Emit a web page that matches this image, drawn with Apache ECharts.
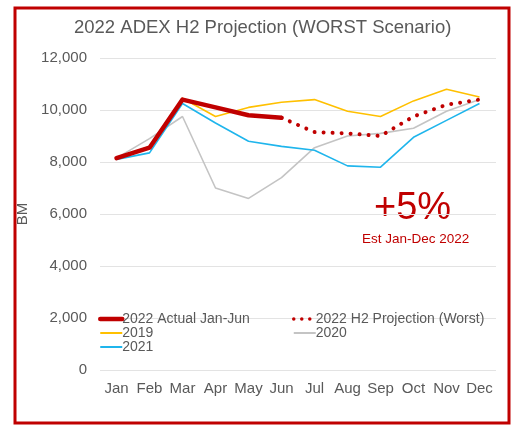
<!DOCTYPE html>
<html>
<head>
<meta charset="utf-8">
<script src="https://cdn.jsdelivr.net/npm/echarts@6/dist/echarts.min.js"></script>
<style>
  html, body { margin: 0; padding: 0; background: #fff; }
  #chart { width: 512px; height: 428px; }
</style>
</head>
<body>
<div id="chart"></div>
<script>
// months on the x axis
const months = ["Jan", "Feb", "Mar", "Apr", "May", "Jun", "Jul", "Aug", "Sep", "Oct", "Nov", "Dec"];

// values (BM)
const actual2022 = [8150, 8550, 10400, 10100, 9800, 9700, null, null, null, null, null, null];
const projection2022 = [null, null, null, null, null, 9700, 9150, 9100, 9000, 9750, 10200, 10400];
const y2019 = [8150, 8600, 10450, 9750, 10100, 10300, 10400, 9950, 9750, 10350, 10800, 10500];
const y2020 = [8150, 8900, 9750, 7000, 6600, 7400, 8550, 9000, 9100, 9300, 9950, 10400];
const y2021 = [8100, 8350, 10250, 9500, 8800, 8600, 8450, 7850, 7800, 8950, 9600, 10250];

const grey = "#595959";
const red = "#c00000";
const font = "Liberation Sans, Arial, sans-serif";

const chart = echarts.init(document.getElementById("chart"));

function line(name, data, color, width, extra) {
    return Object.assign({
        type: "line",
        name: name,
        data: data,
        symbol: "none",
        connectNulls: false,
        lineStyle: { color: color, width: width },
        itemStyle: { color: color },
    }, extra || {});
}

// legend column, no symbol dot on the line icons
function legendCol(left, items) {
    return {
        orient: "vertical",
        left: left,
        top: 312,
        padding: 0,
        itemWidth: 22,
        itemHeight: 10,
        itemGap: 0,
        textStyle: { color: grey, fontSize: 14, lineHeight: 14, padding: [0, 0, 0, -5] },
        data: items.map((it) => Object.assign({ itemStyle: { opacity: 0 } }, it)),
    };
}

chart.setOption({
    animation: false,
    textStyle: { fontFamily: font },
    title: {
        text: "2022 ADEX H2 Projection (WORST Scenario)",
        left: 69,
        top: 13,
        textStyle: { color: grey, fontSize: 18.5, fontWeight: "normal" },
    },
    grid: { left: 100, right: 16, top: 58, bottom: 58 },
    legend: [
        legendCol(98, [
            { name: "2022 Actual Jan-Jun", lineStyle: { width: 4.5 } },
            { name: "2019" },
            { name: "2021" },
        ]),
        legendCol(292, [
            { name: "2022 H2 Projection (Worst)", lineStyle: { width: 3.5, type: [0.01, 8], cap: "round" } },
            { name: "2020" },
        ]),
    ],
    xAxis: {
        type: "category",
        data: months,
        boundaryGap: true,
        axisLine: { show: false },
        axisTick: { show: false },
        axisLabel: { color: grey, fontSize: 15, margin: 11, interval: 0 },
    },
    yAxis: {
        type: "value",
        min: 0,
        max: 12000,
        interval: 2000,
        name: "BM",
        nameLocation: "middle",
        nameGap: 66,
        nameTextStyle: { color: grey, fontSize: 15 },
        axisLabel: {
            color: grey,
            fontSize: 15,
            margin: 13,
            formatter: (v) => v.toLocaleString("en-US"),
        },
        splitLine: { lineStyle: { color: "#e3e3e3", width: 1 } },
    },
    series: [
        line("2019", y2019, "#ffc000", 1.6),
        line("2020", y2020, "#c4c4c4", 1.6),
        line("2021", y2021, "#1fb5ec", 1.6),
        line("2022 H2 Projection (Worst)", projection2022, red, 4, {
            lineStyle: { color: red, width: 4, type: [0.01, 9], cap: "round" },
        }),
        line("2022 Actual Jan-Jun", actual2022, red, 4.5, {
            lineStyle: { color: red, width: 4.5, cap: "round", join: "round" },
        }),
    ],
    graphic: [
        {
            type: "rect",
            shape: { x: 15, y: 8, width: 494, height: 415 },
            style: { fill: null, stroke: red, lineWidth: 3 },
            silent: true,
        },
        {
            type: "text",
            left: 374,
            top: 190,
            style: { text: "+5%", fill: red, fontSize: 38, fontFamily: font },
        },
        {
            type: "text",
            left: 362,
            top: 232,
            style: { text: "Est Jan-Dec 2022", fill: red, fontSize: 13.5, fontFamily: font },
        },
    ],
});
</script>
</body>
</html>
